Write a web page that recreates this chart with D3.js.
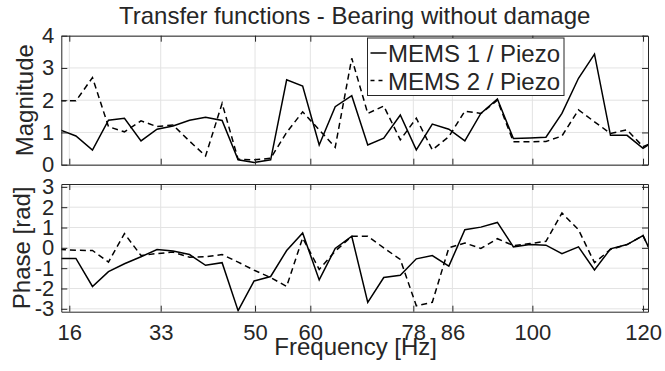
<!DOCTYPE html>
<html>
<head>
<meta charset="utf-8">
<script src="https://cdn.jsdelivr.net/npm/d3@7"></script>
<style>
  body { margin: 0; background: #fff; }
  svg { display: block; }
  text { font-family: "Liberation Sans", Arial, Helvetica, sans-serif; fill: #262626; }
</style>
</head>
<body>
<svg id="chart" width="665" height="371"></svg>
<script>
// frequency bins [Hz]
const freq = [14.3, 17.2, 20.2, 23.1, 26.0, 29.0, 31.9, 34.8, 37.8, 40.7,
              43.7, 46.6, 49.5, 52.5, 55.4, 58.3, 61.3, 64.2, 67.2, 70.1,
              73.0, 76.0, 78.9, 81.8, 84.8, 87.7, 90.6, 93.6, 96.5, 99.5,
              102.4, 105.3, 108.3, 111.2, 114.1, 117.1, 120.0, 123.0];

// magnitude
const mag1 = [1.08, 0.89, 0.45, 1.38, 1.44, 0.74, 1.10, 1.20, 1.38, 1.47,
              1.37, 0.15, 0.07, 0.15, 2.63, 2.44, 0.61, 1.80, 2.14, 0.61,
              0.82, 1.54, 0.46, 1.26, 1.10, 0.74, 1.59, 2.04, 0.81, 0.83,
              0.85, 1.59, 2.68, 3.43, 0.91, 0.91, 0.51, 0.83];
const mag2 = [1.98, 1.98, 2.70, 1.18, 1.02, 1.36, 1.18, 1.23, 0.73, 0.27,
              1.90, 0.17, 0.15, 0.20, 1.00, 1.64, 1.08, 0.54, 3.30, 1.59,
              1.82, 0.77, 1.44, 0.46, 0.87, 1.66, 1.59, 2.00, 0.71, 0.71,
              0.72, 0.89, 1.70, 1.33, 0.97, 1.08, 0.56, 0.78];

// phase [rad]
const phase1 = [-0.52, -0.52, -1.90, -1.17, -0.78, -0.44, -0.08, -0.16, -0.33, -0.86,
                -0.73, -3.09, -1.63, -1.41, -0.13, 0.73, -1.58, -0.03, 0.57, -2.68,
                -1.46, -1.35, -0.54, -0.38, -0.90, 0.89, 1.02, 1.25, 0.05, 0.16,
                0.13, -0.29, 0.05, -1.09, -0.05, 0.16, 0.60, -1.10];
const phase2 = [-0.08, -0.12, -0.13, -0.70, 0.70, -0.38, -0.28, -0.21, -0.46, -0.44,
                -0.33, -0.70, -1.10, -1.46, -1.90, 0.49, -1.06, -0.16, 0.57, 0.57,
                0.00, -0.57, -2.85, -2.68, 0.00, 0.24, -0.03, 0.45, 0.11, 0.21,
                0.32, 1.71, 0.89, -0.73, -0.08, 0.16, 0.60, -1.10];

const freqTicks = [16, 32.57, 49.67, 59.69, 78.36, 85.44, 99.94, 120];
const freqTickLabels = ["16", "33", "50", "60", "78", "86", "100", "120"];
const magTicks = [0, 1, 2, 3, 4];
const phaseTicks = [-3, -2, -1, 0, 1, 2, 3];
const seriesNames = ["MEMS 1 / Piezo", "MEMS 2 / Piezo"];

(() => {
  const axisColor = "#262626", gridColor = "#e3e3e3";
  const plotL = 61.3, plotR = 648;
  const dashes = [null, "6,4"];

  const svg = d3.select("#chart");

  const x = d3.scaleLinear().domain([14.55, 120.9]).range([plotL, plotR]);

  const panels = [
    { top: 35.7, bottom: 164.7, domain: [0, 4], ticks: magTicks, series: [mag1, mag2],
      label: "Magnitude", labelX: 33, showX: false },
    { top: 184, bottom: 311.7, domain: [-Math.PI, Math.PI], ticks: phaseTicks, series: [phase1, phase2],
      label: "Phase [rad]", labelX: 29.5, showX: true }
  ];

  svg.append("text")
    .attr("x", (plotL + plotR) / 2)
    .attr("y", 23.5)
    .attr("text-anchor", "middle")
    .style("font-size", "24px")
    .text("Transfer functions - Bearing without damage");

  panels.forEach((p, pi) => {
    const y = d3.scaleLinear().domain(p.domain).range([p.bottom, p.top]);
    const g = svg.append("g");

    g.append("clipPath").attr("id", `clip${pi}`)
      .append("rect")
      .attr("x", plotL).attr("y", p.top)
      .attr("width", plotR - plotL).attr("height", p.bottom - p.top);

    // grid
    g.append("g").selectAll("line")
      .data(freqTicks)
      .join("line")
      .attr("x1", d => x(d)).attr("x2", d => x(d))
      .attr("y1", p.top).attr("y2", p.bottom)
      .attr("stroke", gridColor);
    g.append("g").selectAll("line")
      .data(p.ticks)
      .join("line")
      .attr("x1", plotL).attr("x2", plotR)
      .attr("y1", d => y(d)).attr("y2", d => y(d))
      .attr("stroke", gridColor);

    // data
    const line = d3.line()
      .x((d, i) => x(freq[i]))
      .y(d => y(d));
    g.append("g")
      .attr("clip-path", `url(#clip${pi})`)
      .selectAll("path")
      .data(p.series)
      .join("path")
      .attr("d", line)
      .attr("fill", "none")
      .attr("stroke", "#000")
      .attr("stroke-width", 1.5)
      .attr("stroke-dasharray", (d, i) => dashes[i]);

    // axes (box on, ticks inward)
    const styleAxis = sel => {
      sel.attr("font-size", null).attr("font-family", null);
      sel.selectAll(".domain").attr("stroke", axisColor);
      sel.selectAll(".tick line").attr("stroke", axisColor);
      sel.selectAll(".tick text").attr("fill", axisColor).style("font-size", "22px");
    };

    g.append("g")
      .attr("transform", `translate(0,${p.bottom})`)
      .call(d3.axisBottom(x).tickValues(freqTicks)
        .tickFormat((d, i) => p.showX ? freqTickLabels[i] : "")
        .tickSizeInner(-6).tickSizeOuter(0).tickPadding(12.5))
      .call(styleAxis);
    g.append("g")
      .attr("transform", `translate(0,${p.top})`)
      .call(d3.axisTop(x).tickValues(freqTicks).tickFormat("")
        .tickSizeInner(-6).tickSizeOuter(0))
      .call(styleAxis);
    g.append("g")
      .attr("transform", `translate(${plotL},0)`)
      .call(d3.axisLeft(y).tickValues(p.ticks).tickFormat(d => String(d))
        .tickSizeInner(-6).tickSizeOuter(0).tickPadding(7))
      .call(styleAxis);
    g.append("g")
      .attr("transform", `translate(${plotR},0)`)
      .call(d3.axisRight(y).tickValues(p.ticks).tickFormat("")
        .tickSizeInner(-6).tickSizeOuter(0))
      .call(styleAxis);

    g.append("text")
      .attr("transform", `translate(${p.labelX},${(p.top + p.bottom) / 2}) rotate(-90)`)
      .attr("text-anchor", "middle")
      .style("font-size", "24px")
      .text(p.label);

    if (p.showX) {
      g.append("text")
        .attr("x", (plotL + plotR) / 2 + 1)
        .attr("y", 354.5)
        .attr("text-anchor", "middle")
        .style("font-size", "24px")
        .text("Frequency [Hz]");
    }

    if (pi === 0) {
      const legend = g.append("g").attr("transform", "translate(367.5,38)");
      legend.append("rect")
        .attr("width", 196.5).attr("height", 57.5)
        .attr("fill", "#fff")
        .attr("stroke", axisColor);
      const row = legend.selectAll(".row")
        .data(seriesNames)
        .join("g")
        .attr("class", "row")
        .attr("transform", (d, i) => `translate(0,${15 + i * 27.5})`);
      row.append("line")
        .attr("x1", 3).attr("x2", 19)
        .attr("stroke", "#000")
        .attr("stroke-width", 1.5)
        .attr("stroke-dasharray", (d, i) => i ? "4,4" : null);
      row.append("text")
        .attr("x", 20.5).attr("y", 9)
        .style("font-size", "24px")
        .text(d => d);
    }
  });
})();
</script>
</body>
</html>
